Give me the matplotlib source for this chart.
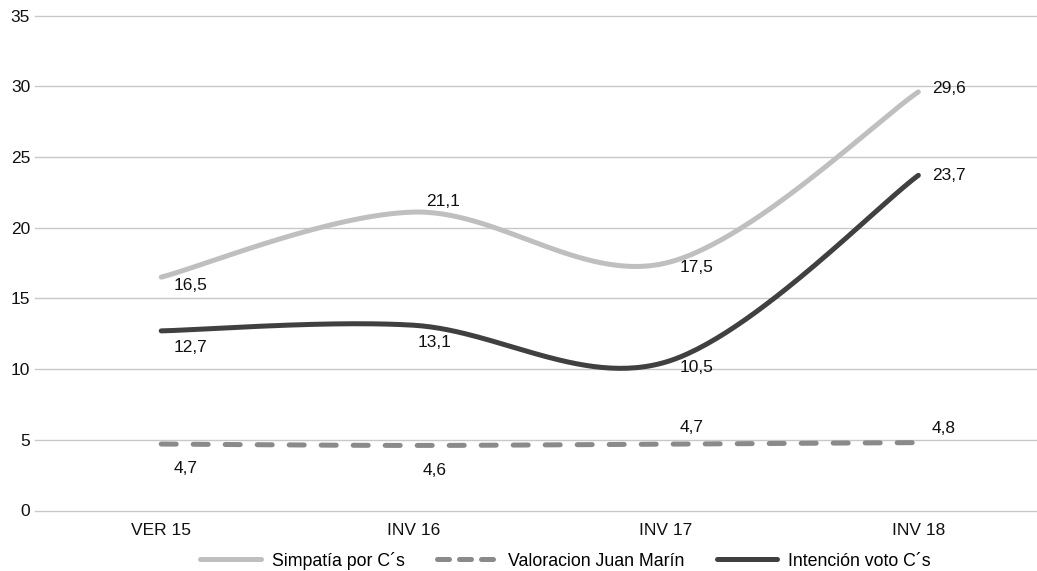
import numpy as np
import matplotlib
matplotlib.use("Agg")
import matplotlib.pyplot as plt
from matplotlib.lines import Line2D

plt.rcParams["font.family"] = ["Liberation Sans", "DejaVu Sans"]

categories = ["VER 15", "INV 16", "INV 17", "INV 18"]
simpatia = [16.5, 21.1, 17.5, 29.6]
valoracion = [4.7, 4.6, 4.7, 4.8]
intencion = [12.7, 13.1, 10.5, 23.7]
series_names = ["Simpatía por C´s", "Valoracion Juan Marín", "Intención voto C´s"]
y_ticks = [0, 5, 10, 15, 20, 25, 30, 35]


def smooth(xs, ys, n=60):
    # Catmull-Rom style bezier, like the spreadsheet "smoothed line"
    xs = np.asarray(xs, float)
    ys = np.asarray(ys, float)
    px = np.concatenate([[xs[0]], xs, [xs[-1]]])
    py = np.concatenate([[ys[0]], ys, [ys[-1]]])
    out_x, out_y = [], []
    t = np.linspace(0, 1, n)
    for i in range(1, len(px) - 2):
        x0, x1, x2, x3 = px[i - 1], px[i], px[i + 1], px[i + 2]
        y0, y1, y2, y3 = py[i - 1], py[i], py[i + 1], py[i + 2]
        cx1, cy1 = x1 + (x2 - x0) / 6, y1 + (y2 - y0) / 6
        cx2, cy2 = x2 - (x3 - x1) / 6, y2 - (y3 - y1) / 6
        bx = (1 - t) ** 3 * x1 + 3 * (1 - t) ** 2 * t * cx1 + 3 * (1 - t) * t ** 2 * cx2 + t ** 3 * x2
        by = (1 - t) ** 3 * y1 + 3 * (1 - t) ** 2 * t * cy1 + 3 * (1 - t) * t ** 2 * cy2 + t ** 3 * y2
        out_x.extend(bx)
        out_y.extend(by)
    return np.array(out_x), np.array(out_y)


fig = plt.figure(figsize=(10.37, 5.71), dpi=100)
ax = fig.add_axes([35 / 1037, 60.5 / 571, 1 - 35 / 1037, 495 / 571])

x = np.arange(len(categories))
lw = 3.6

styles = [
    (simpatia, "#bfbfbf", "-", [(12, -8), (12.5, 11), (14, -5), (14, 3)]),
    (valoracion, "#8a8a8a", "--", [(12, -24), (9.5, -25.5), (14, 17), (13, 14.5)]),
    (intencion, "#404040", "-", [(12, -17), (4.5, -17), (14, -5), (14, 0)]),
]

handles = []
for (vals, color, ls, offsets), name in zip(styles, series_names):
    sx, sy = smooth(x, vals)
    line, = ax.plot(sx, sy, color=color, lw=lw, solid_capstyle="round",
                    dash_capstyle="round", label=name)
    if ls == "--":
        line.set_dashes((3.0, 3.4))
        h = Line2D([], [], color=color, lw=lw, dash_capstyle="round",
                   dashes=(2.4, 2.0))
    else:
        h = Line2D([], [], color=color, lw=lw, solid_capstyle="round")
    handles.append(h)
    for xi, v, (dx, dy) in zip(x, vals, offsets):
        ax.annotate(f"{v:.1f}".replace(".", ","), (xi, v), xytext=(dx, dy),
                    textcoords="offset pixels", ha="left", va="center",
                    fontsize=12.5, color="#111111")

ax.set_xlim(-0.5, 3.47)
ax.set_ylim(0, 35)
ax.set_yticks(y_ticks)
ax.set_xticks(x)
ax.set_xticklabels(categories)
ax.grid(axis="y", color="#c8c8c8", lw=1)
for gl in ax.get_ygridlines():
    gl.set_clip_on(False)
ax.set_axisbelow(True)
for s in ax.spines.values():
    s.set_visible(False)
ax.tick_params(axis="both", length=0, labelsize=12.5, colors="#111111")
ax.tick_params(axis="y", pad=3.5)
ax.tick_params(axis="x", pad=9)

fig.legend(handles=handles, labels=series_names, loc="center",
           bbox_to_anchor=(565.5 / 1037, 1 - 560.5 / 571), ncol=3,
           frameon=False, fontsize=12.8, handlelength=3.4,
           handletextpad=0.63, columnspacing=1.8, borderpad=0)

fig.savefig("out.png", dpi=100)
